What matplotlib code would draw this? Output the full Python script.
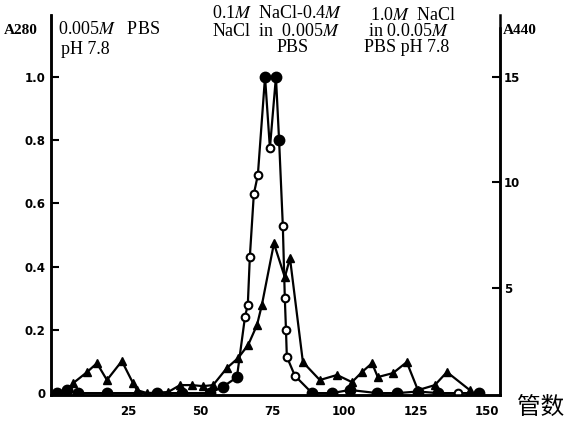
import matplotlib
matplotlib.use('Agg')
import matplotlib.pyplot as plt

plt.rcParams['font.family'] = ['Liberation Serif', 'Noto Sans CJK SC']
plt.rcParams['mathtext.fontset'] = 'stix'

# circle series (A280), tube number vs absorbance; hollow marks some points open
tube_a = [0, 3.5, 7.3, 17.4, 34.8, 43.5, 53.3, 57.8, 62.7, 65.5, 66.5, 67.2, 68.6, 70,
          72.5, 74.2, 76.3, 77.4, 78.7, 79.4, 79.8, 80.1, 82.9, 88.9, 95.8, 102.1,
          111.5, 118.5, 125.8, 132.8, 139.7, 147]
a280 = [0, 0.01, 0, 0, 0, 0, 0, 0.02, 0.05, 0.24, 0.28, 0.43, 0.63, 0.69,
        1.0, 0.775, 1.0, 0.80, 0.53, 0.30, 0.20, 0.115, 0.055, 0, 0, 0.01,
        0, 0, 0.005, 0, 0, 0]
hollow = [0, 0, 0, 0, 0, 0, 0, 0, 0, 1, 1, 1, 1, 1,
          0, 1, 0, 0, 1, 1, 1, 1, 1, 0, 0, 0,
          0, 0, 0, 0, 1, 0]

# triangle series (A440)
tube_b = [5.6, 10.5, 13.9, 17.4, 22.6, 26.5, 27.9, 31.4, 38.7, 42.9, 47.0, 50.9, 54.4,
          59.2, 63.1, 66.6, 69.7, 71.4, 75.6, 79.4, 81.2, 85.7, 91.6, 97.6, 102.8,
          106.3, 109.8, 111.8, 117.1, 121.9, 125.8, 131.7, 135.9, 143.9]
a440 = [0.47, 1.0, 1.42, 0.62, 1.52, 0.47, 0.14, 0, 0.05, 0.38, 0.38, 0.33, 0.38,
        1.19, 1.66, 2.28, 3.23, 4.18, 7.1, 5.5, 6.4, 1.47, 0.62, 0.86, 0.52,
        1.0, 1.42, 0.76, 0.95, 1.47, 0.14, 0.38, 1.0, 0.14]

left_ticks = [0, 0.2, 0.4, 0.6, 0.8, 1.0]
left_labels = ['0', '0.2', '0.4', '0.6', '0.8', '1.0']
right_ticks = [5, 10, 15]
x_ticks = [25, 50, 75, 100, 125, 150]

W, H = 568, 422
fig = plt.figure(figsize=(W / 100, H / 100), dpi=100)
ax = fig.add_axes([51 / W, 1 - 395 / H, (500 - 51) / W, (395 - 15) / H])
ax2 = ax.twinx()

ylo, yhi = -0.006, 1.196
ax.set_xlim(-2.1, 154.4)
ax.set_ylim(ylo, yhi)
ax2.set_ylim(ylo * 15, yhi * 15)

ax.plot(tube_a, a280, color='black', lw=1.6, zorder=3)
for x, y, h in zip(tube_a, a280, hollow):
    ax.plot(x, y, 'o', ms=7 if not h else 5.5, mfc='white' if h else 'black',
            mec='black', mew=1.5, zorder=4)
ax2.plot(tube_b, a440, color='black', lw=1.6, marker='^', ms=5.5, mfc='black', mec='black')

for a in (ax, ax2):
    a.spines['top'].set_visible(False)
    for s in ['left', 'right', 'bottom']:
        a.spines[s].set_linewidth(1.8)
ax2.spines['right'].set_bounds(ylo * 15, 17.3)

ax.set_yticks(left_ticks)
ax.set_yticklabels(left_labels, fontsize=8.5, fontweight='bold', family='DejaVu Sans')
ax.tick_params(axis='y', direction='in', length=6, width=1.5, pad=4)
ax2.set_yticks(right_ticks)
ax2.set_yticklabels([str(t) for t in right_ticks], fontsize=8.5, fontweight='bold', family='DejaVu Sans')
ax2.tick_params(axis='y', direction='in', length=6, width=1.5, pad=3)
ax.set_xticks(x_ticks)
ax.set_xticklabels([str(t) for t in x_ticks], fontsize=8.5, fontweight='bold', family='DejaVu Sans')
ax.tick_params(axis='x', length=0, pad=7)


def ftext(px, py, s, **kw):
    fig.text(px / W, 1 - py / H, s, va='center', **kw)


ftext(4, 30, 'A280', fontsize=11, fontweight='bold')
ftext(58, 30, r'0.005$\mathit{M}$   PBS', fontsize=13)
ftext(61, 50, 'pH 7.8', fontsize=13)
ftext(212, 14, r'0.1$\mathit{M}$  NaCl-0.4$\mathit{M}$', fontsize=13)
ftext(212, 31, r'NaCl  in  0.005$\mathit{M}$', fontsize=13)
ftext(277, 48, 'PBS', fontsize=13)
ftext(370, 15, r'1.0$\mathit{M}$  NaCl', fontsize=13)
ftext(368, 32, r'in 0.0.05$\mathit{M}$', fontsize=13)
ftext(364, 48, 'PBS pH 7.8', fontsize=13)
ftext(503, 30, 'A440', fontsize=11, fontweight='bold')
ftext(517, 407, '管数', fontsize=17, family=['Noto Sans CJK SC'])

fig.savefig('out.png', dpi=100)
